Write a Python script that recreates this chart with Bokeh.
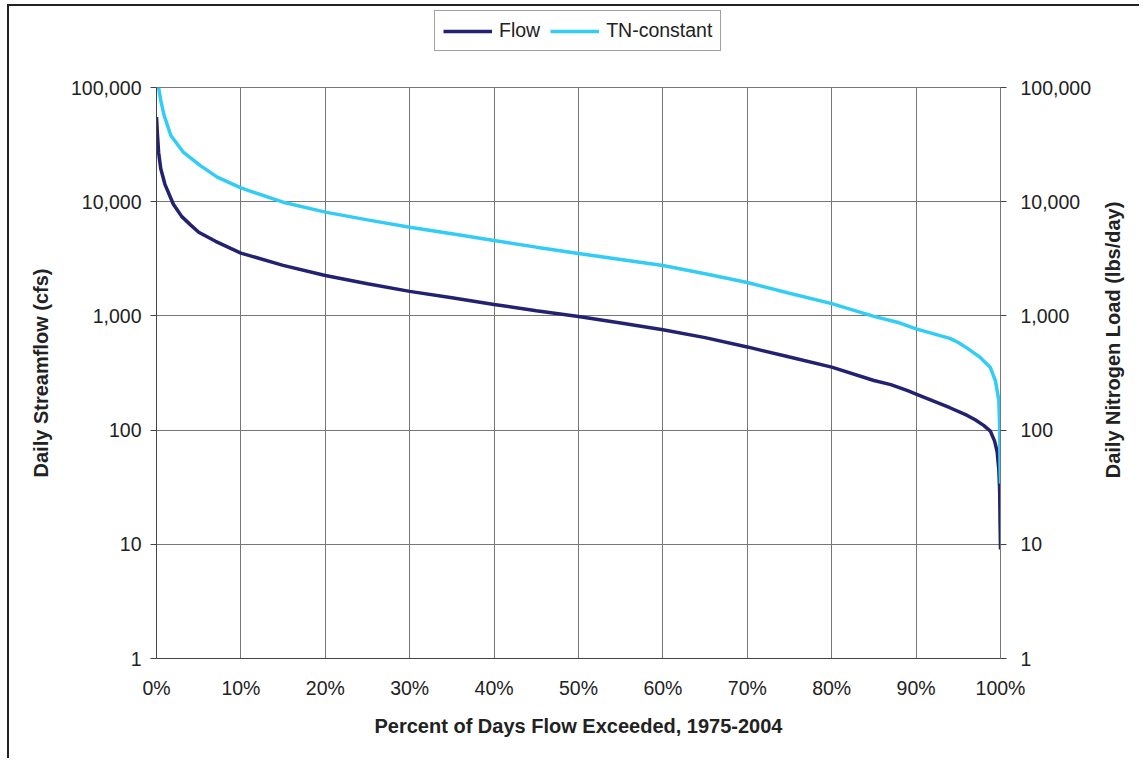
import math
from bokeh.plotting import figure
from bokeh.layouts import column, row
from bokeh.models import (Range1d, LogAxis, FixedTicker, NumeralTickFormatter,
                          PrintfTickFormatter, Legend, LegendItem, Label)
from bokeh.embed import file_html
from bokeh.resources import INLINE

# ---- data ----
flow_pct = [0.0, 0.1, 0.25, 0.5, 1.0, 2.0, 3.0, 4.0, 5.0, 7.0, 10, 15, 20, 25, 30, 35, 40, 45,
            50, 55, 60, 65, 70, 75, 80, 85, 87, 89, 90, 92, 94, 96, 97, 98, 98.8, 99.3, 99.6,
            99.8, 99.9, 99.95, 100]
flow_cfs = [55000, 40000, 27000, 19500, 14200, 9500, 7400, 6300, 5400, 4500, 3550, 2770, 2260,
            1910, 1640, 1440, 1260, 1110, 990, 865, 755, 645, 535, 436, 356, 272, 250, 222,
            207, 180, 157, 135, 123, 110, 98, 80, 65, 45, 30, 15, 9]

tn_pct = [0.25, 0.5, 0.9, 1.7, 3.2, 5.2, 7.2, 10, 15, 20, 25, 30, 35, 40, 45, 50, 55, 60, 65,
          70, 75, 80, 85, 88, 90, 92, 94, 95, 96, 97.6, 98.8, 99.4, 99.8, 99.9, 99.95, 100]
tn_load = [100000, 77000, 57000, 38000, 27000, 20700, 16400, 13200, 9900, 8100, 6930, 5980,
           5250, 4570, 4000, 3520, 3120, 2760, 2340, 1960, 1580, 1280, 990, 870, 770, 700, 635,
           585, 525, 433, 353, 270, 182, 105, 47, 34]

y_ticks = [1, 10, 100, 1000, 10000, 100000]
x_ticks = [0, 10, 20, 30, 40, 50, 60, 70, 80, 90, 100]

FONT = "Liberation Sans"
TXT = "#222222"
GRID = "#777777"
AXIS = "#444444"
FLOW_C = "#222270"
TN_C = "#33ccf5"

# ---- main chart ----
p = figure(width=1088, height=691, output_backend="svg", toolbar_location=None,
           y_axis_type="log", x_range=Range1d(0, 100), y_range=Range1d(1, 100000),
           min_border_left=147, min_border_right=97, min_border_top=20, min_border_bottom=100)
p.outline_line_color = GRID
p.background_fill_color = "white"
p.border_fill_color = "white"

r_flow = p.line(flow_pct, flow_cfs, line_color=FLOW_C, line_width=3.5)
r_tn = p.line(tn_pct, tn_load, line_color=TN_C, line_width=3.5)

xa = p.xaxis[0]
xa.ticker = FixedTicker(ticks=x_ticks, minor_ticks=[])
xa.formatter = PrintfTickFormatter(format="%d%%")
xa.axis_label = "Percent of Days Flow Exceeded, 1975-2004"
ya = p.yaxis[0]
ya.ticker = FixedTicker(ticks=y_ticks, minor_ticks=[])
ya.formatter = NumeralTickFormatter(format="0,0")
ya.axis_label = "Daily Streamflow (cfs)"
ra = LogAxis(ticker=FixedTicker(ticks=y_ticks, minor_ticks=[]),
             formatter=NumeralTickFormatter(format="0,0"))
p.add_layout(ra, "right")

for ax in (xa, ya, ra):
    ax.axis_line_color = AXIS
    ax.axis_line_width = 1
    ax.major_tick_line_color = AXIS
    ax.major_tick_in = 0
    ax.major_tick_out = 6
    ax.minor_tick_line_color = None
    ax.major_label_text_font = FONT
    ax.major_label_text_font_size = "19.5px"
    ax.major_label_text_color = TXT
    ax.axis_label_text_font = FONT
    ax.axis_label_text_font_size = "20px"
    ax.axis_label_text_font_style = "bold"
    ax.axis_label_text_color = TXT
xa.major_tick_out = 0
xa.major_label_standoff = 18
xa.axis_label_standoff = 13
ya.major_label_standoff = 9
ya.axis_label_standoff = 16
ra.major_label_standoff = 14
ra.axis_line_color = GRID

p.xgrid.ticker = FixedTicker(ticks=x_ticks)
p.ygrid.ticker = FixedTicker(ticks=y_ticks)
for g in (p.xgrid[0], p.ygrid[0]):
    g.grid_line_color = GRID
    g.grid_line_width = 1

# ---- right-hand axis title strip (text reads bottom-to-top) ----
rf = figure(width=42, height=691, output_backend="svg", toolbar_location=None,
            x_range=Range1d(0, 42), y_range=Range1d(0, 691),
            x_axis_location=None, y_axis_location=None,
            min_border_left=0, min_border_right=0, min_border_top=0, min_border_bottom=0)
rf.outline_line_color = None
rf.xgrid.visible = False
rf.ygrid.visible = False
rf.background_fill_color = "white"
rf.border_fill_color = "white"
rf.add_layout(Label(x=15, y=385.5, text="Daily Nitrogen Load (lbs/day)", angle=math.pi / 2,
                    text_align="center", text_baseline="middle", text_font=FONT,
                    text_font_size="20px", text_font_style="bold", text_color=TXT))

# ---- legend strip above the chart (series drawn out of its view, only the key shows) ----
lg = figure(width=1130, height=61, output_backend="svg", toolbar_location=None,
            x_range=Range1d(0, 1), y_range=Range1d(-2, -1),
            x_axis_location=None, y_axis_location=None,
            min_border_left=147, min_border_right=139, min_border_top=0, min_border_bottom=0)
lg.outline_line_color = None
lg.xgrid.visible = False
lg.ygrid.visible = False
lg.background_fill_color = "white"
lg.border_fill_color = "white"
l_flow = lg.line(flow_pct, flow_cfs, line_color=FLOW_C, line_width=3.5)
l_tn = lg.line(tn_pct, tn_load, line_color=TN_C, line_width=3.5)

legend = Legend(items=[LegendItem(label="Flow", renderers=[l_flow]),
                       LegendItem(label="TN-constant", renderers=[l_tn])],
                orientation="horizontal", location=(278, 16))
legend.border_line_color = AXIS
legend.border_line_width = 1
legend.background_fill_color = "white"
legend.background_fill_alpha = 1
legend.padding = 8
legend.margin = 0
legend.spacing = 10
legend.glyph_width = 49
legend.glyph_height = 22
legend.label_height = 22
legend.label_standoff = 7
legend.label_text_font = FONT
legend.label_text_font_size = "19.5px"
legend.label_text_color = TXT
lg.add_layout(legend, "center")

layout = column(lg, row(p, rf, spacing=0), spacing=0)
layout.margin = (4, 0, 0, 7)
layout.styles = {"border-left": "2px solid #222222", "border-top": "2px solid #222222"}

open("out.html", "w").write(file_html(layout, INLINE))
